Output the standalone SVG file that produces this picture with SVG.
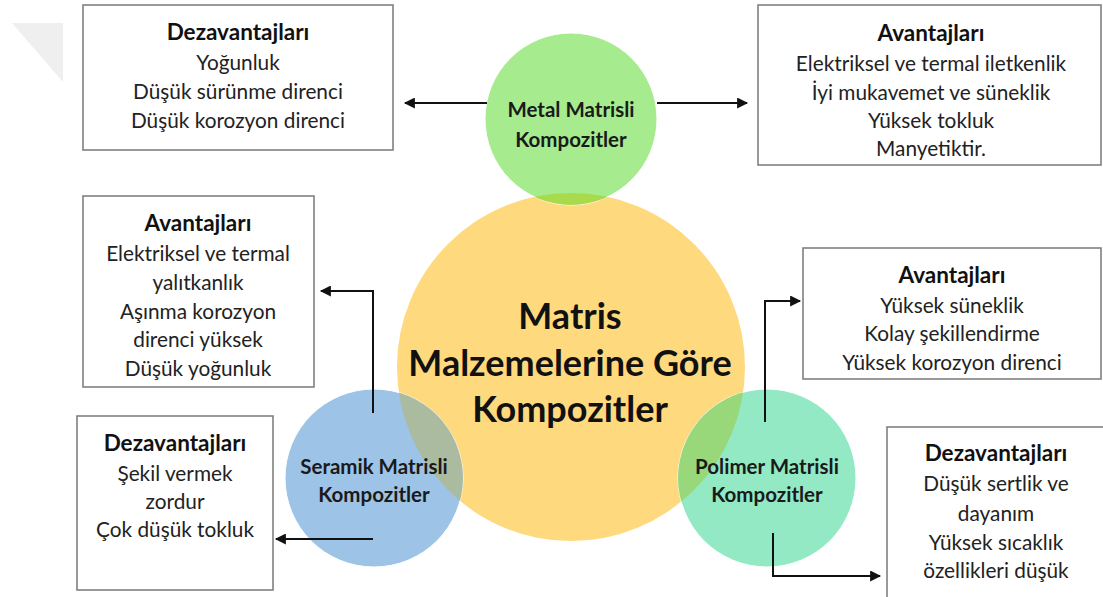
<svg xmlns="http://www.w3.org/2000/svg" width="1103" height="597" viewBox="0 0 1103 597">
<style>
.box{fill:#fff;stroke:#808080;stroke-width:1.6}
.t{font-family:Lato,"Liberation Sans",sans-serif;font-size:20.8px;fill:#222;text-anchor:middle}
.h{font-family:Lato,"Liberation Sans",sans-serif;font-size:22.5px;font-weight:bold;fill:#111;text-anchor:middle}
.c{font-family:Lato,"Liberation Sans",sans-serif;font-size:20.5px;font-weight:bold;fill:#1a1a1a;text-anchor:middle}
.m{font-family:Lato,"Liberation Sans",sans-serif;font-size:36px;font-weight:bold;fill:#111;text-anchor:middle}
.ar{fill:none;stroke:#111;stroke-width:2}
</style>
<defs>
<marker id="ah" viewBox="0 0 10 10" refX="9" refY="5" markerWidth="6" markerHeight="5.5" orient="auto" markerUnits="strokeWidth">
<path d="M0,0 L10,5 L0,10 z" fill="#111"/>
</marker>
<clipPath id="cy"><circle cx="571" cy="367" r="174"/></clipPath>
</defs>
<rect width="1103" height="597" fill="#fff"/>
<polygon points="12,23 63,23 63,82" fill="#efefef"/>
<g id="center">
<circle cx="571" cy="367" r="174" fill="#ffd97d"/>
</g>
<g id="metal">
<circle cx="571" cy="119" r="86" fill="#a6eb8e" stroke="#fff" stroke-width="1"/>
<circle cx="571" cy="119" r="86" fill="#a9da4c" clip-path="url(#cy)"/>
<text class="c" x="571" y="117">Metal Matrisli</text>
<text class="c" x="571" y="147">Kompozitler</text>
</g>
<g id="seramik">
<circle cx="374" cy="478" r="89" fill="#9dc3e6" stroke="#fff" stroke-width="1"/>
<circle cx="374" cy="478" r="89" fill="#abbba0" clip-path="url(#cy)"/>
<text class="c" x="374" y="474">Seramik Matrisli</text>
<text class="c" x="374" y="502">Kompozitler</text>
</g>
<g id="polimer">
<circle cx="767" cy="478" r="89" fill="#92e9c4" stroke="#fff" stroke-width="1"/>
<circle cx="767" cy="478" r="89" fill="#98d87a" clip-path="url(#cy)"/>
<text class="c" x="767" y="474">Polimer Matrisli</text>
<text class="c" x="767" y="502">Kompozitler</text>
</g>
<g id="center-label">
<text class="m" x="570" y="329">Matris</text>
<text class="m" x="570" y="376">Malzemelerine Göre</text>
<text class="m" x="570" y="422">Kompozitler</text>
</g>
<g id="metal-dez">
<rect class="box" x="83" y="5" width="310" height="145"/>
<text class="h" x="238" y="40">Dezavantajları</text>
<text class="t" x="238" y="70">Yoğunluk</text>
<text class="t" x="238" y="99">Düşük sürünme direnci</text>
<text class="t" x="238" y="128">Düşük korozyon direnci</text>
</g>
<g id="metal-av">
<rect class="box" x="758" y="5" width="343" height="160"/>
<text class="h" x="931" y="41">Avantajları</text>
<text class="t" x="931" y="71">Elektriksel ve termal iletkenlik</text>
<text class="t" x="931" y="100">İyi mukavemet ve süneklik</text>
<text class="t" x="931" y="128">Yüksek tokluk</text>
<text class="t" x="931" y="156">Manyetiktir.</text>
</g>
<g id="seramik-av">
<rect class="box" x="83" y="196" width="231" height="191"/>
<text class="h" x="198" y="231">Avantajları</text>
<text class="t" x="198" y="261">Elektriksel ve termal</text>
<text class="t" x="198" y="290">yalıtkanlık</text>
<text class="t" x="198" y="319">Aşınma korozyon</text>
<text class="t" x="198" y="347">direnci yüksek</text>
<text class="t" x="198" y="376">Düşük yoğunluk</text>
</g>
<g id="seramik-dez">
<rect class="box" x="77" y="416" width="196" height="174"/>
<text class="h" x="175" y="451">Dezavantajları</text>
<text class="t" x="175" y="481">Şekil vermek</text>
<text class="t" x="175" y="509">zordur</text>
<text class="t" x="175" y="537">Çok düşük tokluk</text>
</g>
<g id="polimer-av">
<rect class="box" x="803" y="248" width="298" height="131"/>
<text class="h" x="952" y="283">Avantajları</text>
<text class="t" x="952" y="313">Yüksek süneklik</text>
<text class="t" x="952" y="341">Kolay şekillendirme</text>
<text class="t" x="952" y="370">Yüksek korozyon direnci</text>
</g>
<g id="polimer-dez">
<rect class="box" x="887" y="427" width="230" height="180"/>
<text class="h" x="996" y="461">Dezavantajları</text>
<text class="t" x="996" y="491">Düşük sertlik ve</text>
<text class="t" x="996" y="521">dayanım</text>
<text class="t" x="996" y="550">Yüksek sıcaklık</text>
<text class="t" x="996" y="578">özellikleri düşük</text>
</g>
<g id="connectors">
<path class="ar" d="M487,103 H405" marker-end="url(#ah)"/>
<path class="ar" d="M657,103 H747" marker-end="url(#ah)"/>
<path class="ar" d="M373,413 V291 H321" marker-end="url(#ah)"/>
<path class="ar" d="M373,539 H276" marker-end="url(#ah)"/>
<path class="ar" d="M765,422 V301 H800" marker-end="url(#ah)"/>
<path class="ar" d="M773,533 V576 H880" marker-end="url(#ah)"/>
</g>
</svg>
